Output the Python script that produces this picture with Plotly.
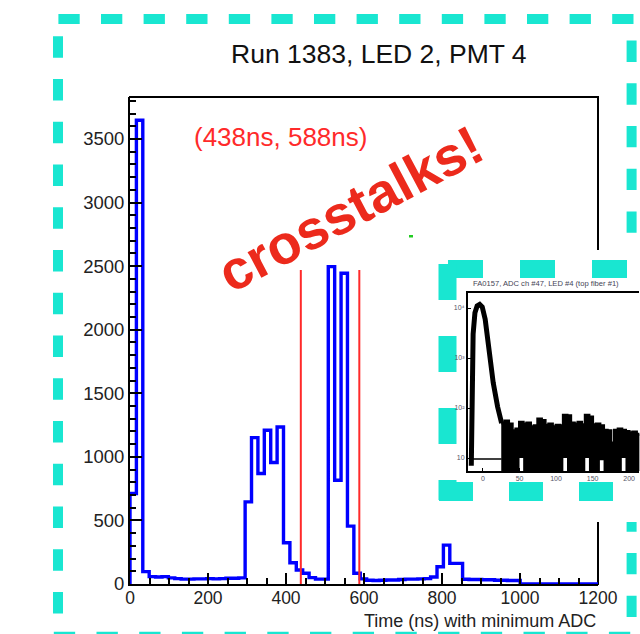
import plotly.graph_objects as go

# ---------------- data ----------------
bin_width_ns = 16.4
counts = [712, 3647,
          97, 58, 55, 58, 48, 42, 38, 38, 40, 40, 42, 40, 42, 45, 45, 48,
          646, 1151, 869, 1209, 955, 1235, 324, 167, 110, 84, 50, 38, 38,
          2496, 816, 2444, 455, 84,
          40, 30, 28, 30, 32, 32, 35, 38, 38, 40, 42, 55,
          136, 306, 162, 162,
          37, 35, 35, 33, 33, 30, 30, 28, 28]
x_end_ns = 1200
red_lines_ns = [438, 588]
red_line_top = 2470

inset_peak_x = [-16, -15, -13.5, -11, -8, -4.5, -1, 3, 8, 14, 20, 25.5]
inset_peak_y = [7, 300, 3000, 8000, 11000, 11800, 10500, 6000, 1500, 320, 106, 50]
inset_base_x = [-14, 25.5]
inset_base_y = [9.5, 9.5]
band_x = [25, 30, 35, 40, 45, 50, 55, 60, 65, 70, 75, 80, 85, 90, 95, 100, 105, 110,
          115, 120, 125, 130, 135, 140, 145, 150, 155, 160, 165, 170, 175, 180, 185,
          190, 195, 200, 205, 210, 215]
band_upper = [50, 55, 48, 35, 38, 52, 48, 50, 42, 44, 60, 56, 45, 48, 42, 45, 44, 72,
              70, 50, 48, 52, 46, 72, 66, 46, 48, 44, 36, 35, 20, 36, 38, 36, 34, 32,
              33, 30, 30]
band_lower = [4, 4, 4, 4, 4, 10, 4, 4, 4, 4, 4, 4, 4, 4, 4, 4, 4, 10,
              4, 4, 4, 4, 4, 10, 4, 4, 4, 9, 4, 4, 4, 4, 4, 10, 4, 4,
              4, 4, 4]
inset_xticks = [0, 50, 100, 150, 200]
inset_yticks = [10, 100, 1000, 10000]
inset_yticktext = ["10", "10²", "10³", "10⁴"]

W, H = 640, 634
def px(x):
    return x / W
def py(y):
    return 1 - y / H

FONT = "Liberation Sans, Arial, Helvetica, sans-serif"
TEAL = "#19e6d1"

fig = go.Figure()

# main histogram (step outline)
hx, hy = [0], [0]
for i, c in enumerate(counts):
    hx.append(i * bin_width_ns)
    hy.append(c)
hx.append(len(counts) * bin_width_ns)
hy.append(0)
hx.append(x_end_ns)
hy.append(0)
fig.add_trace(go.Scatter(x=hx, y=hy, mode="lines",
                         line=dict(color="#0000ff", width=3.4, shape="hv"),
                         xaxis="x", yaxis="y", hoverinfo="skip"))
for xv in red_lines_ns:
    fig.add_trace(go.Scatter(x=[xv, xv], y=[0, red_line_top], mode="lines",
                             line=dict(color="#ff2a2a", width=2),
                             xaxis="x", yaxis="y", hoverinfo="skip"))

# inset traces
fig.add_trace(go.Scatter(x=band_x, y=band_lower, mode="lines",
                         line=dict(color="black", width=0, shape="hv"),
                         xaxis="x2", yaxis="y2", hoverinfo="skip"))
fig.add_trace(go.Scatter(x=band_x, y=band_upper, mode="lines", fill="tonexty",
                         fillcolor="black",
                         line=dict(color="black", width=3, shape="hv"),
                         xaxis="x2", yaxis="y2", hoverinfo="skip"))
fig.add_trace(go.Scatter(x=inset_base_x, y=inset_base_y, mode="lines",
                         line=dict(color="black", width=1.5),
                         xaxis="x2", yaxis="y2", hoverinfo="skip"))
fig.add_trace(go.Scatter(x=inset_peak_x, y=inset_peak_y, mode="lines",
                         line=dict(color="black", width=5),
                         xaxis="x2", yaxis="y2", hoverinfo="skip"))

shapes = []
def seg(x0, y0, x1, y1, color, width, dash="solid"):
    shapes.append(dict(type="line", xref="paper", yref="paper",
                       x0=px(x0), y0=py(y0), x1=px(x1), y1=py(y1),
                       line=dict(color=color, width=width, dash=dash),
                       layer="below"))

# main frame top / right
seg(129, 97, 599, 97, "black", 2)
seg(598, 96, 598, 585, "black", 2)
# outer teal dashed border
seg(58.4, 19, 660, 19, TEAL, 10, "21.3px,21.3px")
seg(58, 36.2, 58, 660, TEAL, 10, "21.5px,21.25px")
seg(631.6, 40.6, 631.6, 660, TEAL, 10, "21.35px,21.35px")
seg(53.8, 636.7, 660, 636.7, TEAL, 10, "21.35px,21.35px")
# inset white box
shapes.append(dict(type="rect", xref="paper", yref="paper",
                   x0=px(425), x1=px(660), y0=py(250), y1=py(522),
                   fillcolor="white", line=dict(width=0), layer="below"))
# inset teal border
seg(448, 269, 680, 269, TEAL, 18, "35px,37px")
seg(447.5, 264, 447.5, 500, TEAL, 18, "36px,36px")
seg(439, 491.5, 680, 491.5, TEAL, 19, "34px,36px")
# tiny green speck
shapes.append(dict(type="rect", xref="paper", yref="paper",
                   x0=px(409), x1=px(413), y0=py(237.5), y1=py(235),
                   fillcolor="#22cc22", line=dict(width=0), layer="below"))

annotations = [
    dict(text="Run 1383, LED 2, PMT 4", x=px(379), y=py(54), xref="paper", yref="paper",
         showarrow=False, xanchor="center", yanchor="middle",
         font=dict(family=FONT, size=26.5, color="#111111")),
    dict(text="(438ns, 588ns)", x=px(192), y=py(137), xref="paper", yref="paper",
         showarrow=False, xanchor="left", yanchor="middle",
         font=dict(family=FONT, size=26, color="#ff2a2a")),
    dict(text="<b>crosstalks!</b>", x=px(350), y=py(209), xref="paper", yref="paper",
         showarrow=False, xanchor="center", yanchor="middle", textangle=-28,
         font=dict(family=FONT, size=55, color="#ec2a1c")),
    dict(text="Time (ns) with minimum ADC", x=px(598), y=py(621), xref="paper", yref="paper",
         showarrow=False, xanchor="right", yanchor="middle",
         font=dict(family=FONT, size=18, color="#222222")),
    dict(text="FA0157, ADC ch #47, LED #4 (top fiber #1)", x=px(471), y=py(283),
         xref="paper", yref="paper", showarrow=False, xanchor="left", yanchor="middle",
         font=dict(family=FONT, size=7.6, color="#444455")),
]

fig.update_layout(
    width=W, height=H, autosize=False,
    margin=dict(l=0, r=0, t=0, b=0, pad=0, autoexpand=False),
    paper_bgcolor="white", plot_bgcolor="white",
    showlegend=False,
    shapes=shapes, annotations=annotations,
    xaxis=dict(domain=[px(130), px(598)], range=[0, 1200], anchor="y", automargin=False,
               tickmode="linear", tick0=0, dtick=200,
               ticks="inside", ticklen=11, tickwidth=1.6, tickcolor="black",
               minor=dict(tickmode="linear", tick0=0, dtick=50, ticks="inside",
                          ticklen=6, tickwidth=1.6, tickcolor="black"),
               showline=True, linewidth=2, linecolor="black",
               showgrid=False, zeroline=False, ticklabelstandoff=-3,
               tickfont=dict(family=FONT, size=17.5, color="#222222")),
    yaxis=dict(domain=[py(584), py(97)], range=[0, 3830], anchor="x", automargin=False,
               tickmode="linear", tick0=0, dtick=500,
               ticks="inside", ticklen=12, tickwidth=1.6, tickcolor="black",
               minor=dict(tickmode="linear", tick0=0, dtick=100, ticks="inside",
                          ticklen=6, tickwidth=1.6, tickcolor="black"),
               showline=True, linewidth=2, linecolor="black",
               showgrid=False, zeroline=False,
               tickfont=dict(family=FONT, size=18.5, color="#222222")),
    xaxis2=dict(domain=[px(468), 0.999], range=[-20.5, 214], anchor="y2", automargin=False,
                tickvals=inset_xticks, ticks="inside", ticklen=3, tickwidth=1,
                tickcolor="black", showline=True, linewidth=2, linecolor="black",
                mirror=True, showgrid=False, zeroline=False,
                tickfont=dict(family=FONT, size=7, color="#555566")),
    yaxis2=dict(domain=[py(471), py(293)], type="log", range=[0.74, 4.3], anchor="x2",
                automargin=False,
                tickvals=inset_yticks, ticktext=inset_yticktext,
                ticks="inside", ticklen=3, tickwidth=1, tickcolor="black",
                showline=True, linewidth=2, linecolor="black",
                showgrid=False, zeroline=False,
                tickfont=dict(family=FONT, size=7, color="#555566")),
)

fig.write_html("out.html", config={"displayModeBar": False})
